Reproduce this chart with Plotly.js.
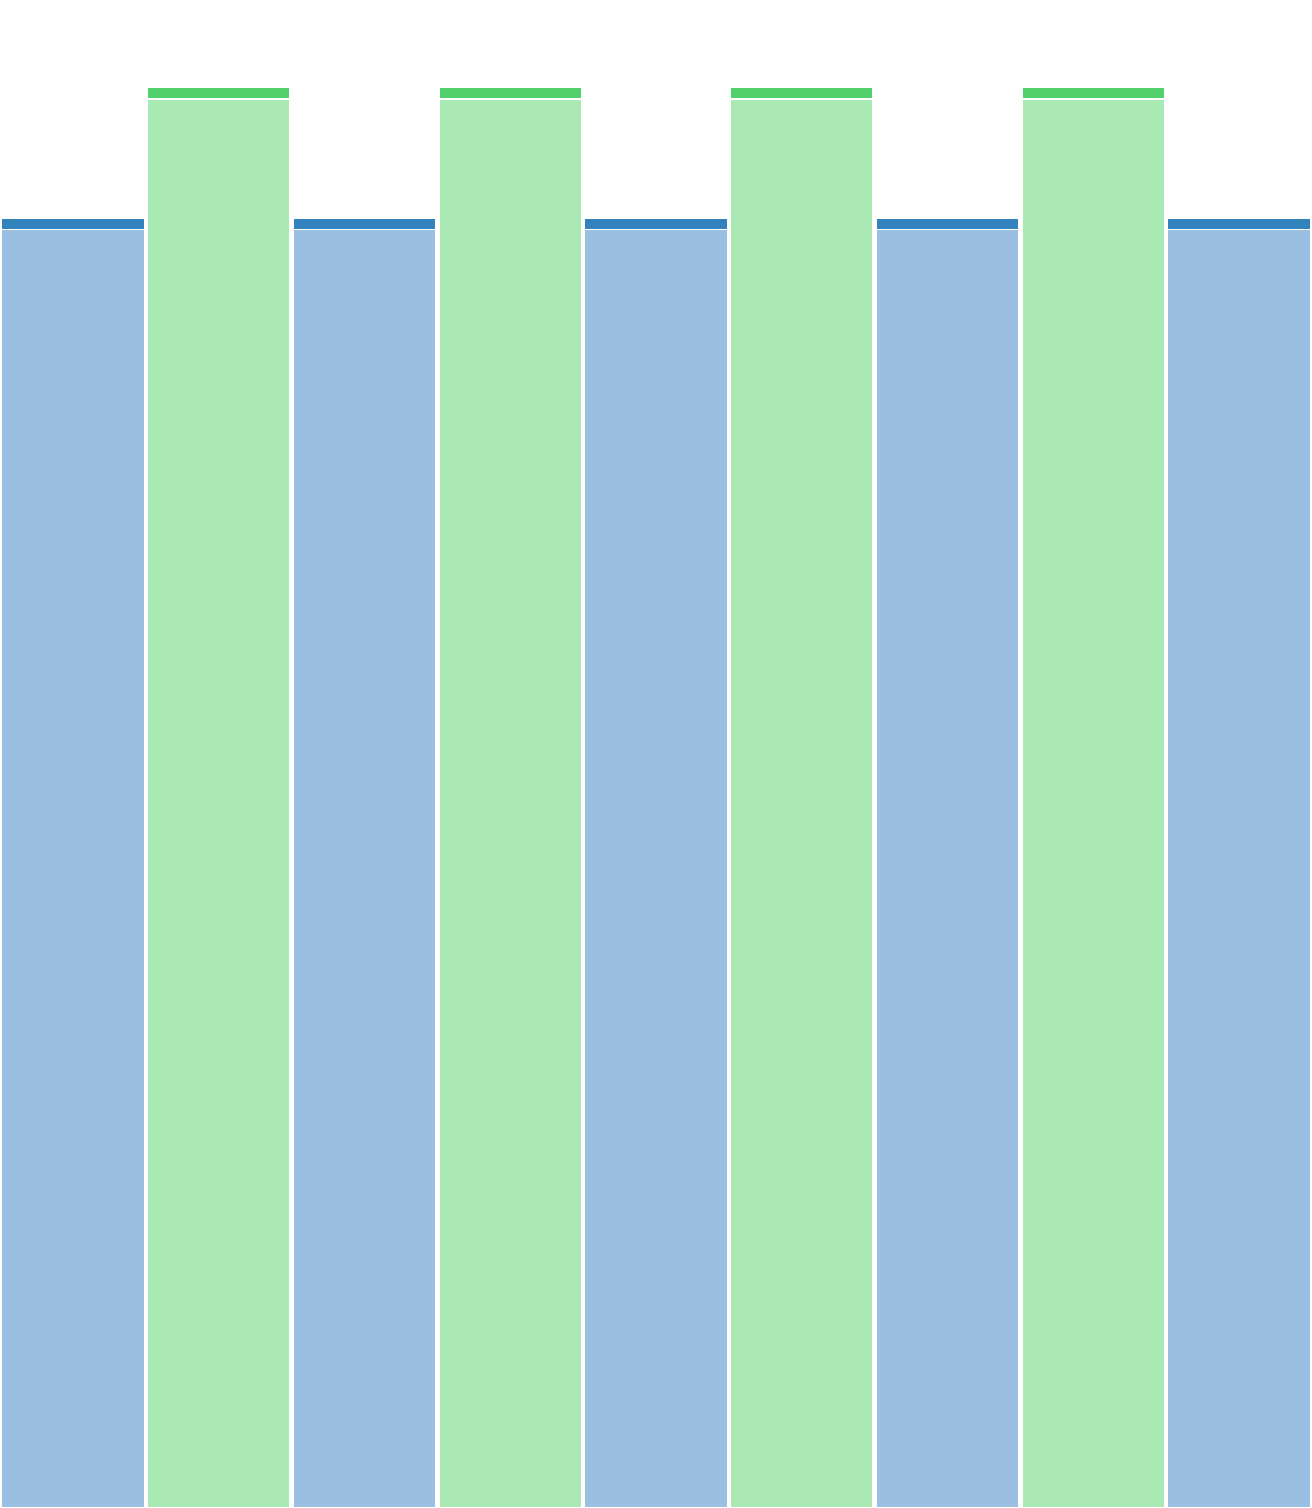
<!DOCTYPE html>
<html>
<head>
<meta charset="utf-8">
<script src="https://cdn.plot.ly/plotly-3.0.1.min.js"></script>
<style>
  html, body { margin: 0; padding: 0; background: #fff; }
  #chart { width: 1312px; height: 1508px; }
</style>
</head>
<body>
<div id="chart"></div>
<script>
var categories = [0, 1, 2, 3, 4, 5, 6, 7, 8];
var base_values = [99.2, 109.3, 99.2, 109.3, 99.2, 109.3, 99.2, 109.3, 99.2];
var cap_values = [0.85, 0.9, 0.85, 0.9, 0.85, 0.9, 0.85, 0.9, 0.85];

var light_colors = [];
var dark_colors = [];
for (var i = 0; i < categories.length; i++) {
    light_colors.push(i % 2 === 0 ? '#9abfe0' : '#aae8b4');
    dark_colors.push(i % 2 === 0 ? '#3182bd' : '#52d06b');
}

var trace1 = {  x: categories,
                y: base_values,
                type: 'bar',
                marker: {color: light_colors, line: {color: '#ffffff', width: 1.5}},
                hoverinfo: 'none'
             };

var trace2 = {  x: categories,
                y: cap_values,
                type: 'bar',
                marker: {color: dark_colors, line: {color: '#ffffff', width: 1.5}},
                hoverinfo: 'none'
             };

var layout = {barmode: 'stack',
              bargap: 0.02,
              showlegend: false,
              width: 1312,
              height: 1508,
              margin: {l: 0, r: 0, t: 0, b: 0, pad: 0},
              paper_bgcolor: '#ffffff',
              plot_bgcolor: '#ffffff',
              xaxis: {range: [-0.5, 8.5], visible: false, fixedrange: true},
              yaxis: {range: [0, 117], visible: false, fixedrange: true}
             };

var config = {'displayModeBar': false, 'staticPlot': true};

Plotly.newPlot('chart', [trace1, trace2], layout, config);
</script>
</body>
</html>
